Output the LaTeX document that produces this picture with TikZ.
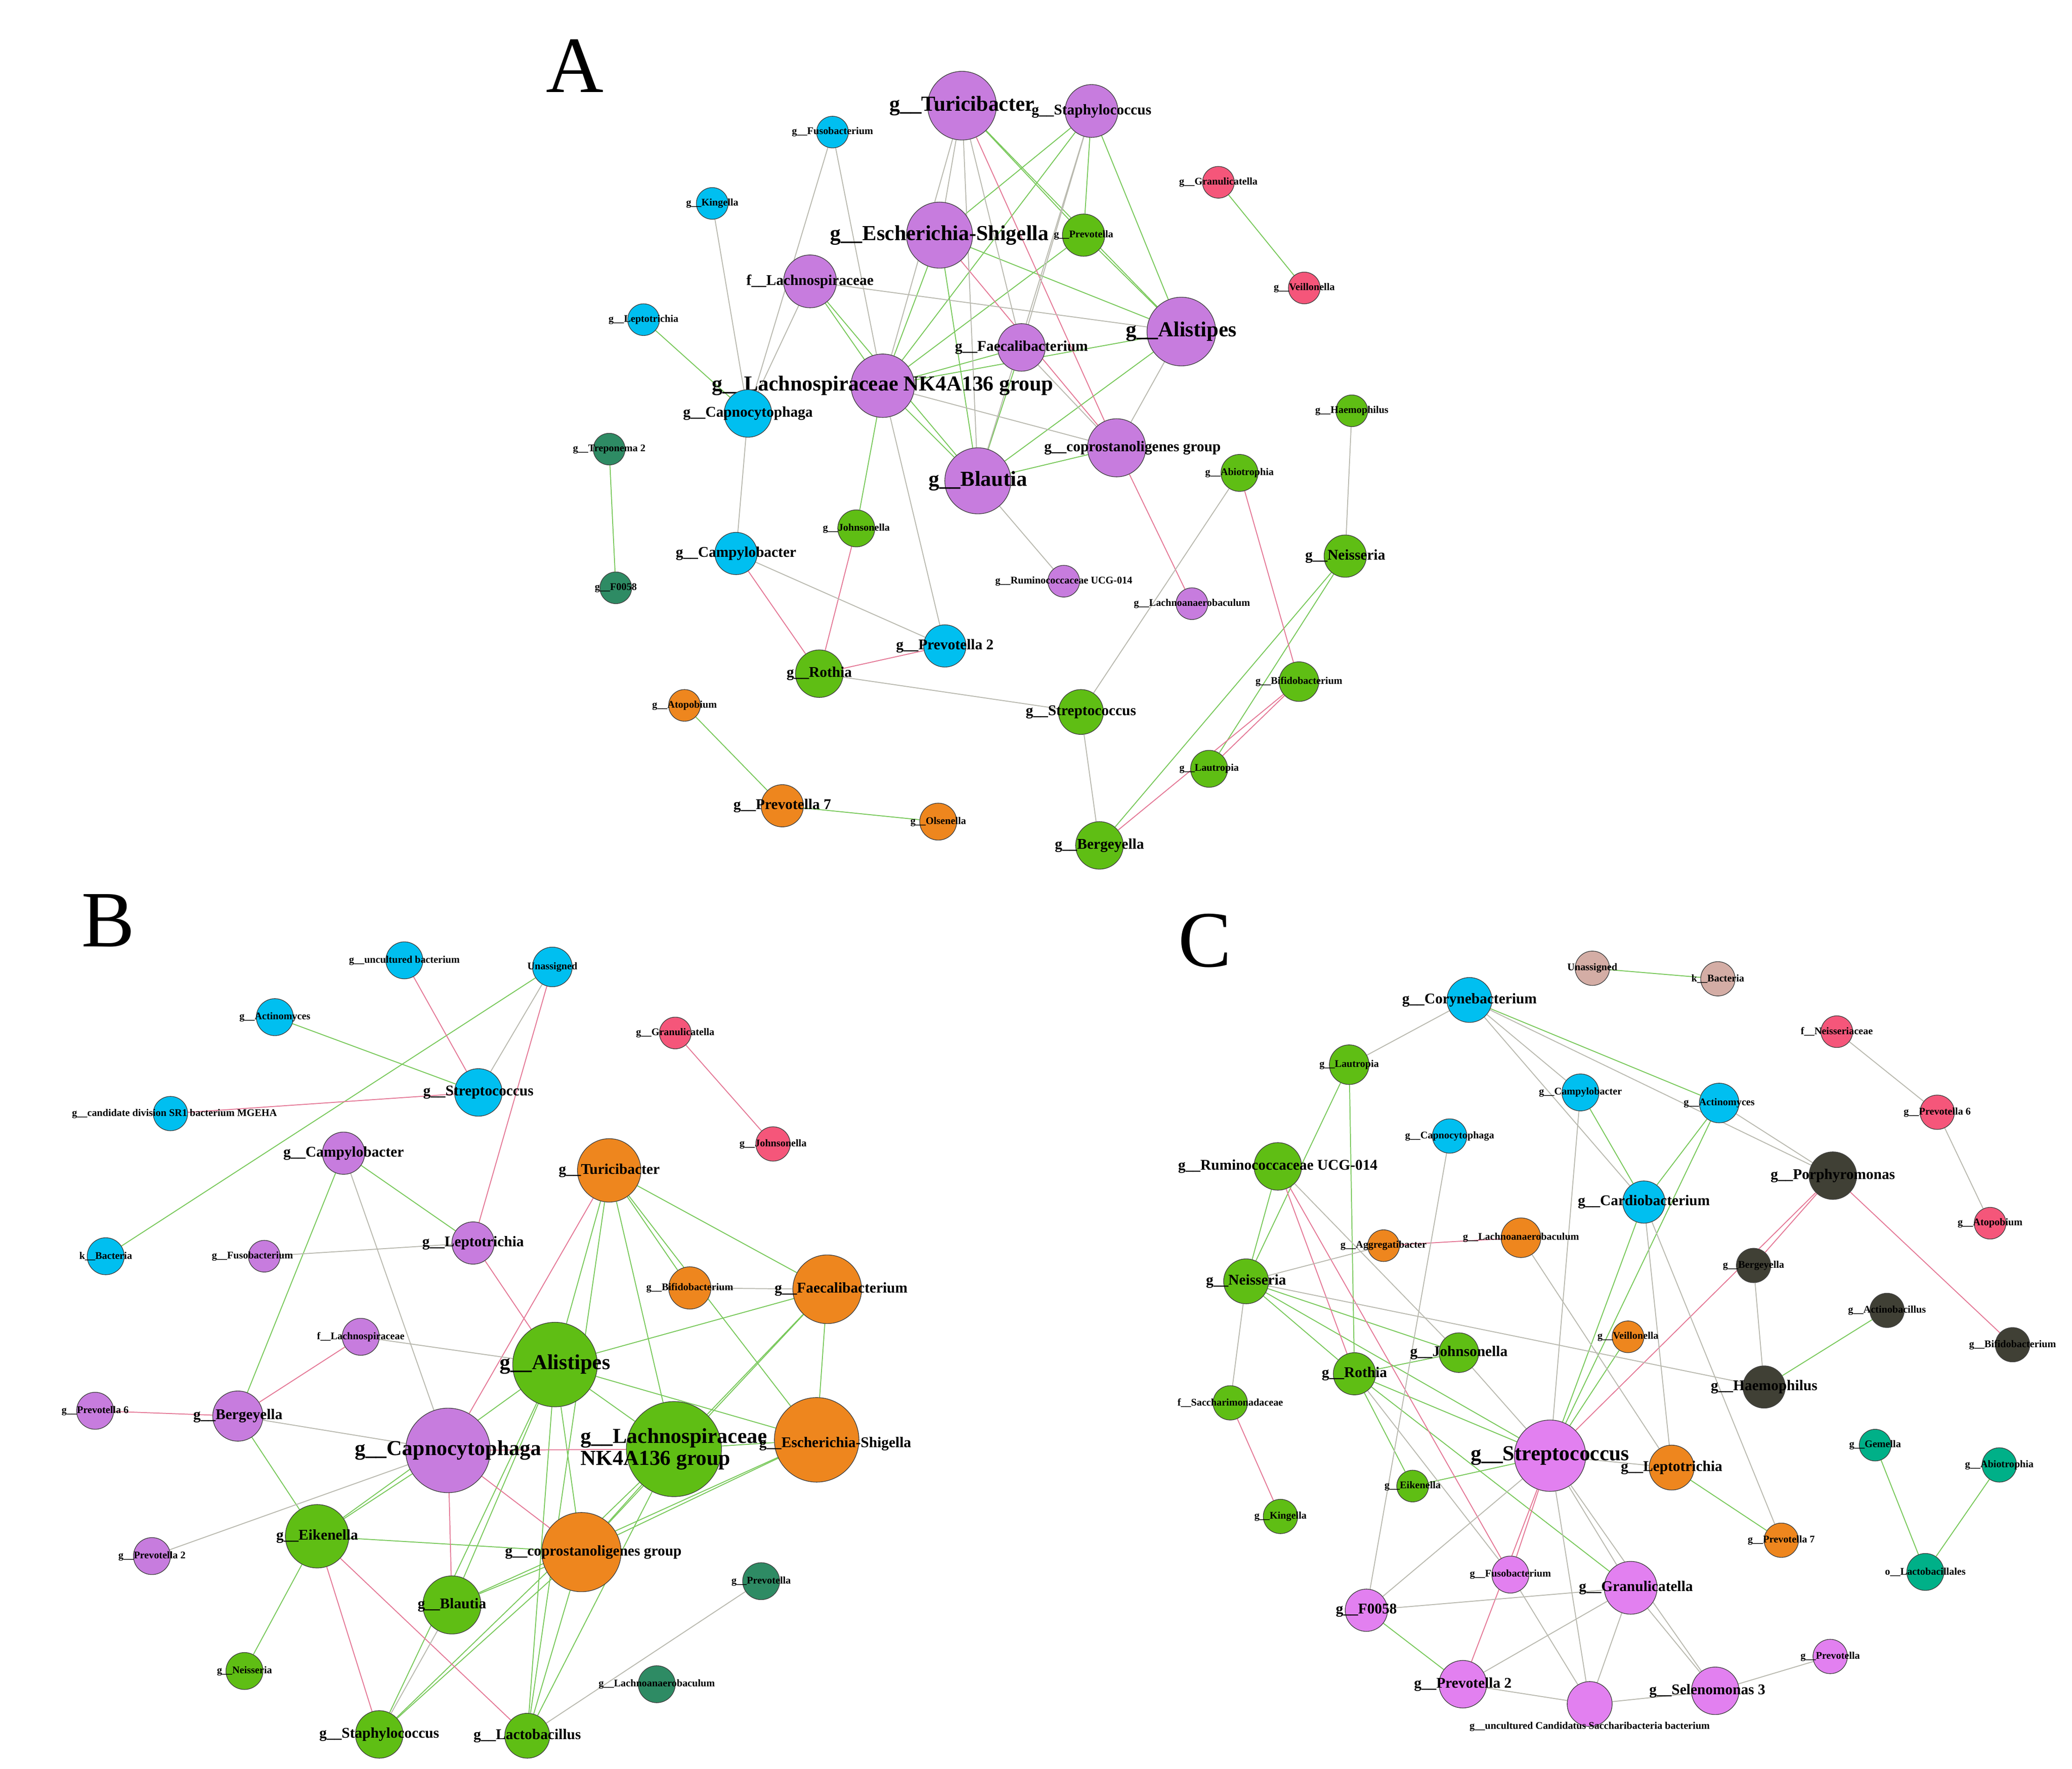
\documentclass[tikz,border=0pt]{standalone}
\usepackage{fontspec}
\setmainfont{Liberation Serif}
\usetikzlibrary{backgrounds}
\definecolor{cpu}{RGB}{199,124,222}
\definecolor{cbl}{RGB}{0,191,240}
\definecolor{cgr}{RGB}{95,190,20}
\definecolor{cpk}{RGB}{245,86,122}
\definecolor{ctl}{RGB}{46,139,100}
\definecolor{cor}{RGB}{238,134,30}
\definecolor{cdk}{RGB}{64,64,53}
\definecolor{ctq}{RGB}{0,176,136}
\definecolor{cbr}{RGB}{212,173,165}
\definecolor{cmg}{RGB}{226,128,240}
\definecolor{leg}{RGB}{120,200,90}
\definecolor{ler}{RGB}{228,120,150}
\definecolor{ley}{RGB}{185,185,175}
\tikzset{
 fb/.style={font=\fontsize{23}{25}\selectfont\bfseries},
 fm/.style={font=\fontsize{16}{18}\selectfont\bfseries},
 fs/.style={font=\fontsize{11}{12}\selectfont\bfseries},
 eg/.style={draw=leg,line width=1pt},
 er/.style={draw=ler,line width=1pt},
 ey/.style={draw=ley,line width=1pt},
}
\newcommand\N[6]{\node[circle,draw=black!75,line width=0.7pt,fill=#2,minimum size=#4*0.5mm,inner sep=0pt,label={[#5,text=black]center:#6}] (#1) at (#3) {};}
\begin{document}
\begin{tikzpicture}[x=0.05cm,y=-0.05cm]
\useasboundingbox (0,0) rectangle (1568,1339);
\node[font=\fontsize{86}{90}\selectfont] (LA) at (435,50) {A};
\node[font=\fontsize{86}{90}\selectfont] (LB) at (82,697) {B};
\node[font=\fontsize{86}{90}\selectfont] (LC) at (912,712) {C};
% Panel A
\N{a1}{cpu}{728,80}{52}{fb}{g\_\_Turicibacter}
\N{a2}{cpu}{826,84}{40}{fm}{g\_\_Staphylococcus}
\N{a3}{cbl}{630,100}{24}{fs}{g\_\_Fusobacterium}
\N{a4}{cpk}{922,138}{24}{fs}{g\_\_Granulicatella}
\N{a5}{cbl}{539,154}{24}{fs}{g\_\_Kingella}
\N{a6}{cpu}{711,178}{50}{fb}{g\_\_Escherichia-Shigella}
\N{a7}{cgr}{820,178}{32}{fs}{g\_\_Prevotella}
\N{a8}{cpu}{613,213}{40}{fm}{f\_\_Lachnospiraceae}
\N{a9}{cpk}{987,218}{24}{fs}{g\_\_Veillonella}
\N{a10}{cbl}{487,242}{24}{fs}{g\_\_Leptotrichia}
\N{a11}{cpu}{894,251}{52}{fb}{g\_\_Alistipes}
\N{a12}{cpu}{773,263}{36}{fm}{g\_\_Faecalibacterium}
\N{a13}{cpu}{668,292}{48}{fb}{g\_\_Lachnospiraceae NK4A136 group}
\N{a14}{cbl}{566,313}{36}{fm}{g\_\_Capnocytophaga}
\N{a15}{cgr}{1023,311}{24}{fs}{g\_\_Haemophilus}
\N{a16}{cpu}{845,339}{44}{fm}{\hspace*{1.2cm}g\_\_coprostanoligenes group}
\N{a17}{ctl}{461,340}{24}{fs}{g\_\_Treponema 2}
\N{a18}{cpu}{740,364}{50}{fb}{g\_\_Blautia}
\N{a19}{cgr}{938,358}{28}{fs}{g\_\_Abiotrophia}
\N{a20}{cgr}{648,400}{28}{fs}{g\_\_Johnsonella}
\N{a21}{cbl}{557,419}{32}{fm}{g\_\_Campylobacter}
\N{a22}{cgr}{1018,421}{32}{fm}{g\_\_Neisseria}
\N{a23}{cpu}{805,440}{24}{fs}{g\_\_Ruminococcaceae UCG-014}
\N{a24}{ctl}{466,445}{24}{fs}{g\_\_F0058}
\N{a25}{cpu}{902,457}{24}{fs}{g\_\_Lachnoanaerobaculum}
\N{a26}{cbl}{715,489}{32}{fm}{g\_\_Prevotella 2}
\N{a27}{cgr}{620,510}{36}{fm}{g\_\_Rothia}
\N{a28}{cgr}{983,516}{30}{fs}{g\_\_Bifidobacterium}
\N{a29}{cor}{518,534}{24}{fs}{g\_\_Atopobium}
\N{a30}{cgr}{818,539}{34}{fm}{g\_\_Streptococcus}
\N{a31}{cgr}{915,582}{28}{fs}{g\_\_Lautropia}
\N{a32}{cor}{592,610}{32}{fm}{g\_\_Prevotella 7}
\N{a33}{cor}{710,622}{28}{fs}{g\_\_Olsenella}
\N{a34}{cgr}{832,640}{36}{fm}{g\_\_Bergeyella}
% Panel B
\N{b1}{cbl}{306,727}{28}{fs}{g\_\_uncultured bacterium}
\N{b2}{cbl}{418,732}{30}{fs}{Unassigned}
\N{b3}{cbl}{208,770}{28}{fs}{g\_\_Actinomyces}
\N{b4}{cpk}{511,782}{24}{fs}{g\_\_Granulicatella}
\N{b5}{cbl}{129,843}{26}{fs}{\hspace*{0.3cm}g\_\_candidate division SR1 bacterium MGEHA}
\N{b6}{cbl}{362,827}{36}{fm}{g\_\_Streptococcus}
\N{b7}{cpk}{585,866}{26}{fs}{g\_\_Johnsonella}
\N{b8}{cor}{461,886}{48}{fm}{g\_\_Turicibacter}
\N{b9}{cpu}{260,873}{32}{fm}{g\_\_Campylobacter}
\N{b10}{cpu}{358,941}{32}{fm}{g\_\_Leptotrichia}
\N{b11}{cbl}{80,951}{28}{fs}{k\_\_Bacteria}
\N{b12}{cpu}{200,951}{24}{fs}{\hspace*{-0.9cm}g\_\_Fusobacterium}
\N{b13}{cor}{522,975}{32}{fs}{g\_\_Bifidobacterium}
\N{b14}{cor}{626,976}{52}{fm}{\hspace*{1.05cm}g\_\_Faecalibacterium}
\N{b15}{cpu}{273,1012}{28}{fs}{f\_\_Lachnospiraceae}
\N{b16}{cgr}{420,1033}{64}{fb}{g\_\_Alistipes}
\N{b17}{cpu}{72,1068}{28}{fs}{g\_\_Prevotella 6}
\N{b18}{cpu}{180,1072}{38}{fm}{g\_\_Bergeyella}
\N{b19}{cpu}{339,1098}{64}{fb}{g\_\_Capnocytophaga}
\N{b20}{cgr}{510,1097}{72}{fb}{\shortstack[l]{g\_\_Lachnospiraceae\\NK4A136 group}}
\N{b21}{cor}{618,1090}{64}{fm}{\raisebox{-0.7cm}{\hspace*{1.4cm}g\_\_Escherichia-Shigella}}
\N{b22}{cpu}{115,1178}{28}{fs}{g\_\_Prevotella 2}
\N{b23}{cgr}{240,1163}{48}{fm}{g\_\_Eikenella}
\N{b24}{cor}{440,1175}{60}{fm}{\hspace*{0.9cm}g\_\_coprostanoligenes group}
\N{b25}{ctl}{576,1197}{28}{fs}{g\_\_Prevotella}
\N{b26}{cgr}{342,1215}{44}{fm}{g\_\_Blautia}
\N{b27}{cgr}{185,1265}{28}{fs}{g\_\_Neisseria}
\N{b28}{ctl}{497,1275}{28}{fs}{g\_\_Lachnoanaerobaculum}
\N{b29}{cgr}{287,1313}{36}{fm}{g\_\_Staphylococcus}
\N{b30}{cgr}{399,1314}{34}{fm}{g\_\_Lactobacillus}
% Panel C
\N{c1}{cbr}{1205,733}{26}{fs}{Unassigned}
\N{c2}{cbr}{1300,741}{26}{fs}{k\_\_Bacteria}
\N{c3}{cbl}{1112,757}{34}{fm}{g\_\_Corynebacterium}
\N{c4}{cpk}{1390,781}{24}{fs}{f\_\_Neisseriaceae}
\N{c5}{cgr}{1021,806}{30}{fs}{g\_\_Lautropia}
\N{c6}{cbl}{1196,827}{28}{fs}{g\_\_Campylobacter}
\N{c7}{cbl}{1301,835}{30}{fs}{g\_\_Actinomyces}
\N{c8}{cpk}{1466,842}{26}{fs}{g\_\_Prevotella 6}
\N{c9}{cbl}{1097,860}{26}{fs}{g\_\_Capnocytophaga}
\N{c10}{cgr}{967,883}{36}{fm}{g\_\_Ruminococcaceae UCG-014}
\N{c11}{cdk}{1387,890}{36}{fm}{g\_\_Porphyromonas}
\N{c12}{cbl}{1244,910}{32}{fm}{g\_\_Cardiobacterium}
\N{c13}{cor}{1047,943}{24}{fs}{g\_\_Aggregatibacter}
\N{c14}{cor}{1151,937}{30}{fs}{g\_\_Lachnoanaerobaculum}
\N{c15}{cpk}{1506,926}{24}{fs}{g\_\_Atopobium}
\N{c16}{cdk}{1327,958}{26}{fs}{g\_\_Bergeyella}
\N{c17}{cgr}{943,970}{34}{fm}{g\_\_Neisseria}
\N{c18}{cdk}{1428,992}{26}{fs}{g\_\_Actinobacillus}
\N{c19}{cor}{1232,1012}{24}{fs}{g\_\_Veillonella}
\N{c20}{cdk}{1523,1018}{26}{fs}{g\_\_Bifidobacterium}
\N{c21}{cgr}{1104,1024}{30}{fm}{g\_\_Johnsonella}
\N{c22}{cgr}{1025,1040}{32}{fm}{g\_\_Rothia}
\N{c23}{cdk}{1335,1050}{32}{fm}{g\_\_Haemophilus}
\N{c24}{cgr}{931,1062}{26}{fs}{f\_\_Saccharimonadaceae}
\N{c25}{ctq}{1419,1094}{24}{fs}{g\_\_Gemella}
\N{c26}{ctq}{1513,1109}{26}{fs}{g\_\_Abiotrophia}
\N{c27}{cmg}{1173,1102}{54}{fb}{g\_\_Streptococcus}
\N{c28}{cor}{1265,1111}{34}{fm}{g\_\_Leptotrichia}
\N{c29}{cgr}{1069,1125}{24}{fs}{g\_\_Eikenella}
\N{c30}{cgr}{969,1148}{26}{fs}{g\_\_Kingella}
\N{c31}{cor}{1348,1166}{26}{fs}{g\_\_Prevotella 7}
\N{c32}{ctq}{1457,1190}{28}{fs}{o\_\_Lactobacillales}
\N{c33}{cmg}{1143,1192}{28}{fs}{g\_\_Fusobacterium}
\N{c34}{cmg}{1234,1202}{40}{fm}{\hspace*{0.4cm}g\_\_Granulicatella}
\N{c35}{cmg}{1034,1219}{32}{fm}{g\_\_F0058}
\N{c36}{cmg}{1385,1254}{26}{fs}{g\_\_Prevotella}
\N{c37}{cmg}{1107,1275}{36}{fm}{g\_\_Prevotella 2}
\N{c38}{cmg}{1298,1280}{36}{fm}{\hspace*{-0.6cm}g\_\_Selenomonas 3}
\node[circle,draw=black!75,line width=0.7pt,fill=cmg,minimum size=17mm,inner sep=0pt,label={[fs,text=black,yshift=-0.85cm]center:g\_\_uncultured Candidatus Saccharibacteria bacterium}] (c39) at (1203,1290) {};
\begin{pgfonlayer}{background}
% A edges
\foreach \a/\b in {a10/a14,a17/a24,a29/a32,a32/a33,a4/a9,a22/a31,a22/a34,a13/a20,a1/a7,a1/a11,a2/a6,a2/a7,a2/a11,a2/a13,a6/a13,a6/a11,a8/a13,a7/a11,a7/a13,a11/a13,a12/a13,a12/a18,a13/a18,a6/a18,a16/a18,a11/a18,a8/a18}
  \draw[eg] (\a)--(\b);
\foreach \a/\b in {a21/a27,a20/a27,a27/a26,a16/a25,a19/a28,a28/a34,a28/a31,a1/a16,a6/a16}
  \draw[er] (\a)--(\b);
\foreach \a/\b in {a3/a14,a5/a14,a14/a21,a21/a26,a27/a30,a30/a34,a15/a22,a19/a30,a18/a23,a13/a26,a8/a14,a3/a13,a1/a6,a1/a12,a1/a13,a1/a18,a2/a12,a2/a18,a8/a11,a11/a16,a12/a16,a13/a16}
  \draw[ey] (\a)--(\b);
% B edges
\foreach \a/\b in {b3/b6,b2/b11,b9/b18,b18/b23,b19/b23,b23/b27,b23/b16,b23/b24,b8/b16,b8/b20,b8/b14,b8/b13,b8/b21,b8/b30,b14/b16,b14/b21,b14/b24,b14/b20,b16/b20,b16/b21,b16/b24,b16/b26,b16/b29,b16/b30,b20/b24,b20/b29,b20/b21,b24/b26,b24/b29,b24/b30,b21/b26,b21/b24,b20/b30,b9/b10}
  \draw[eg] (\a)--(\b);
\foreach \a/\b in {b1/b6,b2/b10,b5/b6,b4/b7,b10/b16,b15/b18,b17/b18,b19/b26,b19/b24,b19/b8,b19/b20,b23/b29,b23/b30}
  \draw[er] (\a)--(\b);
\foreach \a/\b in {b2/b6,b9/b19,b12/b10,b15/b16,b18/b19,b19/b22,b13/b14,b25/b30,b26/b29}
  \draw[ey] (\a)--(\b);
% C edges
\foreach \a/\b in {c1/c2,c3/c7,c5/c17,c5/c22,c7/c12,c7/c27,c6/c12,c10/c17,c17/c22,c17/c27,c17/c21,c22/c21,c22/c29,c22/c27,c18/c23,c19/c27,c25/c32,c26/c32,c27/c29,c28/c31,c35/c37,c12/c27,c22/c34}
  \draw[eg] (\a)--(\b);
\foreach \a/\b in {c10/c22,c10/c33,c13/c14,c24/c30,c11/c16,c11/c20,c11/c27,c27/c33,c27/c37}
  \draw[er] (\a)--(\b);
\foreach \a/\b in {c3/c6,c3/c5,c3/c12,c3/c11,c4/c8,c8/c15,c7/c11,c6/c27,c9/c35,c10/c21,c14/c28,c17/c13,c17/c24,c17/c23,c21/c27,c12/c31,c12/c28,c16/c23,c27/c28,c27/c34,c27/c35,c27/c39,c27/c38,c34/c35,c34/c38,c34/c39,c34/c37,c33/c39,c37/c39,c39/c38,c36/c38,c22/c33}
  \draw[ey] (\a)--(\b);
\end{pgfonlayer}
\end{tikzpicture}
\end{document}
